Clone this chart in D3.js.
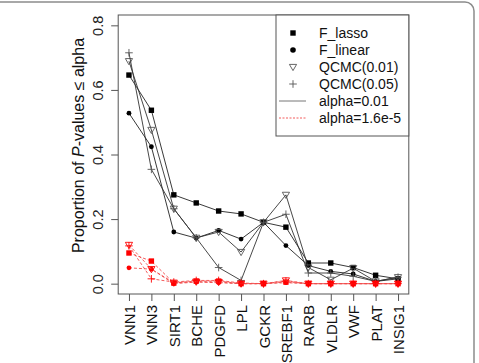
<!DOCTYPE html>
<html>
<head>
<meta charset="utf-8">
<script src="https://cdn.jsdelivr.net/npm/d3@7"></script>
<style>
  body { margin: 0; background: #fff; }
  svg text { font-family: "Liberation Sans", Arial, sans-serif; }
</style>
</head>
<body>
<script>
const genes = ["VNN1", "VNN3", "SIRT1", "BCHE", "PDGFD", "LPL", "GCKR", "SREBF1", "RARB", "VLDLR", "VWF", "PLAT", "INSIG1"];
const yTicks = [0, 0.2, 0.4, 0.6, 0.8];

// alpha = 0.01 (solid black)
const lasso01 = [0.646, 0.537, 0.275, 0.25, 0.225, 0.216, 0.19, 0.175, 0.064, 0.064, 0.05, 0.026, 0.015];
const linear01 = [0.528, 0.424, 0.16, 0.141, 0.165, 0.138, 0.19, 0.118, 0.056, 0.038, 0.03, 0.007, 0.015];
const qcmc1_01 = [0.689, 0.476, 0.232, 0.142, 0.16, 0.098, 0.19, 0.275, 0.05, 0.012, 0.048, 0.007, 0.02];
const qcmc5_01 = [0.715, 0.354, 0.232, 0.142, 0.05, 0.01, 0.19, 0.215, 0.033, 0.033, 0.023, 0.007, 0.02];

// alpha = 1.6e-5 (dashed red)
const lassoBonf = [0.095, 0.07, 0.002, 0.008, 0.008, 0, 0, 0.005, 0, 0, 0, 0, 0];
const linearBonf = [0.049, 0.045, 0, 0.005, 0.003, 0, 0, 0.003, 0, 0, 0, 0, 0];
const qcmc1Bonf = [0.12, 0.045, 0.003, 0.006, 0.005, 0, 0, 0.01, 0, 0, 0, 0, 0];
const qcmc5Bonf = [0.117, 0.015, 0.005, 0.01, 0.01, 0.002, 0, 0.008, 0, 0, 0, 0, 0];

const legendLabels = ["F_lasso", "F_linear", "QCMC(0.01)", "QCMC(0.05)", "alpha=0.01", "alpha=1.6e-5"];

const W = 479, H = 363;
const box = { left: 118.2, right: 408.8, top: 15, bottom: 294 };

const svg = d3.select("body")
    .append("svg")
    .attr("width", W)
    .attr("height", H);

// outer rounded frame
svg.append("rect")
    .attr("x", -12).attr("y", 2)
    .attr("width", 486).attr("height", 420)
    .attr("rx", 9)
    .attr("fill", "none")
    .attr("stroke", "#8c8c8c")
    .attr("stroke-width", 1.5);

const x = d3.scalePoint()
    .domain(genes)
    .range([box.left, box.right])
    .padding(0.48);
const y = d3.scaleLinear()
    .domain([-0.032, 0.832])
    .range([box.bottom, box.top]);

// markers
const marker = {
    square: (g, col) => g.append("rect")
        .attr("x", -2.7).attr("y", -2.7).attr("width", 5.4).attr("height", 5.4)
        .attr("fill", col),
    circle: (g, col) => g.append("circle")
        .attr("r", 2.4).attr("fill", col),
    tri: (g, col) => g.append("path")
        .attr("d", "M-3.6,-2.6L3.6,-2.6L0,3.6Z")
        .attr("fill", "none").attr("stroke", col).attr("stroke-width", 0.9),
    plus: (g, col) => g.append("path")
        .attr("d", "M-3.8,0H3.8M0,-3.8V3.8")
        .attr("fill", "none").attr("stroke", col).attr("stroke-width", 0.9)
};

const series = [
    { vals: lasso01, shape: "square", col: "#000", lc: "#222", dash: null },
    { vals: linear01, shape: "circle", col: "#000", lc: "#222", dash: null },
    { vals: qcmc1_01, shape: "tri", col: "#555", lc: "#333", dash: null },
    { vals: qcmc5_01, shape: "plus", col: "#555", lc: "#333", dash: null },
    { vals: lassoBonf, shape: "square", col: "#f00", lc: "#f24a4a", dash: "3,2" },
    { vals: linearBonf, shape: "circle", col: "#f00", lc: "#f24a4a", dash: "3,2" },
    { vals: qcmc1Bonf, shape: "tri", col: "#f00", lc: "#f24a4a", dash: "3,2" },
    { vals: qcmc5Bonf, shape: "plus", col: "#f00", lc: "#f24a4a", dash: "3,2" }
];

const line = d3.line()
    .x((d, i) => x(genes[i]))
    .y(d => y(d));

const plot = svg.append("g").attr("id", "plot_area");

series.forEach(s => {
    plot.append("path")
        .attr("d", line(s.vals))
        .attr("fill", "none")
        .attr("stroke", s.lc)
        .attr("stroke-width", 0.9)
        .attr("stroke-dasharray", s.dash);
    plot.append("g")
        .selectAll("g")
        .data(s.vals)
        .join("g")
        .attr("transform", (d, i) => `translate(${x(genes[i])},${y(d)})`)
        .each(function () { marker[s.shape](d3.select(this), s.col); });
});

// box
svg.append("rect")
    .attr("x", box.left).attr("y", box.top)
    .attr("width", box.right - box.left).attr("height", box.bottom - box.top)
    .attr("fill", "none")
    .attr("stroke", "#555")
    .attr("stroke-width", 1);

// y axis
const yax = svg.append("g")
    .attr("transform", `translate(${box.left},0)`)
    .call(d3.axisLeft(y).tickValues(yTicks).tickFormat(d3.format(".1f")).tickSize(7).tickSizeOuter(0));
yax.select(".domain").remove();
yax.selectAll(".tick line").attr("stroke", "#555");
yax.selectAll(".tick text")
    .attr("x", null).attr("dy", null)
    .attr("text-anchor", "middle")
    .attr("transform", "translate(-15,0) rotate(-90)")
    .attr("font-size", 14.5)
    .attr("fill", "#222");

// x axis
const xax = svg.append("g")
    .attr("transform", `translate(0,${box.bottom})`)
    .call(d3.axisBottom(x).tickSize(7).tickSizeOuter(0));
xax.select(".domain").remove();
xax.selectAll(".tick line").attr("stroke", "#555");
xax.selectAll(".tick text")
    .attr("y", null).attr("dy", null)
    .attr("text-anchor", "end")
    .attr("transform", "translate(5.5,11) rotate(-90)")
    .attr("font-size", 15)
    .attr("fill", "#111");

// y label
const ylab = svg.append("text")
    .attr("transform", `translate(84,${(box.top + box.bottom) / 2 - 9}) rotate(-90)`)
    .attr("text-anchor", "middle")
    .attr("font-size", 16)
    .attr("fill", "#111");
ylab.append("tspan").text("Proportion of ");
ylab.append("tspan").attr("font-style", "italic").text("P");
ylab.append("tspan").text("-values \u2264 alpha");

// legend
const leg = svg.append("g").attr("id", "legend");
leg.append("rect")
    .attr("x", 276).attr("y", box.top)
    .attr("width", box.right - 276).attr("height", 136 - box.top)
    .attr("fill", "#fff")
    .attr("stroke", "#555")
    .attr("stroke-width", 1);
const legShapes = ["square", "circle", "tri", "plus"];
legendLabels.forEach((lab, i) => {
    const ry = 33 + i * 17;
    const g = leg.append("g").attr("transform", `translate(293,${ry})`);
    if (i < 4) {
        marker[legShapes[i]](g, i < 2 ? "#000" : "#555");
        if (i === 1) g.select("circle").attr("r", 2.8);
    } else {
        g.append("line")
            .attr("x1", -14).attr("x2", 13)
            .attr("stroke", i === 4 ? "#666" : "#f24a4a")
            .attr("stroke-width", 0.9)
            .attr("stroke-dasharray", i === 5 ? "2,1.5" : null);
    }
    leg.append("text")
        .attr("x", 319).attr("y", ry + 5)
        .attr("font-size", 14)
        .attr("fill", "#111")
        .text(lab);
});
</script>
</body>
</html>
